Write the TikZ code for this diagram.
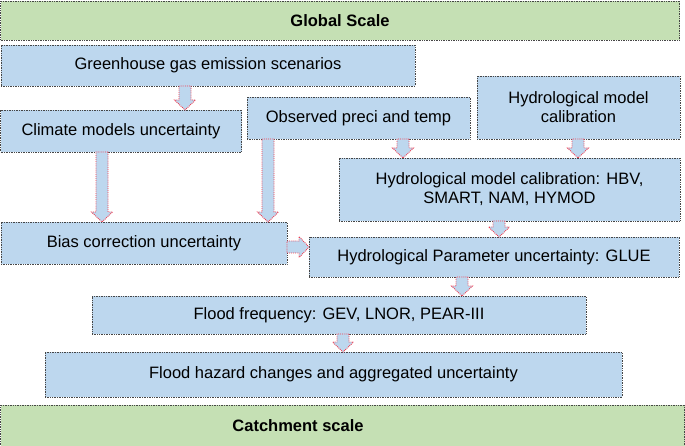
\documentclass[tikz,border=0pt]{standalone}
\usepackage{fontspec}
\setmainfont{Liberation Sans}
\usetikzlibrary{calc}

\definecolor{boxblue}{RGB}{189,215,238}
\definecolor{scalegreen}{RGB}{197,224,180}
\definecolor{bordergray}{RGB}{70,70,70}
\definecolor{arrowred}{RGB}{240,60,80}

\tikzset{
  box/.style={draw=bordergray, densely dotted, line width=0.7pt, fill=boxblue,
    inner sep=0pt, outer sep=0pt, align=center, font=\fontsize{16.5}{19}\selectfont},
  scalebox/.style={box, fill=scalegreen, font=\fontsize{16.5}{19}\selectfont\bfseries},
  blockarrow/.style={draw=arrowred, densely dotted, line width=0.9pt, fill=boxblue,
    to path={
      ($(\tikztostart)!6pt!90:(\tikztotarget)$)
      -- ($($(\tikztotarget)!10pt!(\tikztostart)$)!6pt!-90:(\tikztostart)$)
      -- ($($(\tikztotarget)!10pt!(\tikztostart)$)!10.5pt!-90:(\tikztostart)$)
      -- (\tikztotarget)
      -- ($($(\tikztotarget)!10pt!(\tikztostart)$)!10.5pt!90:(\tikztostart)$)
      -- ($($(\tikztotarget)!10pt!(\tikztostart)$)!6pt!90:(\tikztostart)$)
      -- ($(\tikztostart)!6pt!-90:(\tikztotarget)$)
      -- cycle}}
}

\begin{document}
\begin{tikzpicture}[x=1pt,y=-1pt]
\useasboundingbox (0,0) rectangle (685,446);

% scale bars
\node[scalebox, minimum width=679pt, minimum height=39pt] (global) at (340,20.5) {Global Scale};
\node[scalebox, minimum width=684pt, minimum height=41pt] (catch) at (342.5,425.5) {\hspace*{-89pt}Catchment scale};

% boxes
\node[box, minimum width=414pt, minimum height=41pt] (ghg) at (208,65.5) {Greenhouse gas emission scenarios};
\node[box, minimum width=241pt, minimum height=42pt] (clim) at (121,131) {Climate models uncertainty};
\node[box, minimum width=223pt, minimum height=42pt] (obs) at (358.5,118) {Observed preci and temp};
\node[box, minimum width=203pt, minimum height=63pt] (hcal) at (578.5,107.5) {Hydrological model\\calibration};
\node[box, minimum width=341pt, minimum height=63pt] (hbv) at (509.5,189.5) {Hydrological model calibration: HBV,\\SMART, NAM, HYMOD};
\node[box, minimum width=286pt, minimum height=42pt] (bias) at (144,243) {Bias correction uncertainty};
\node[box, minimum width=370pt, minimum height=40pt] (glue) at (494,257) {Hydrological Parameter uncertainty: GLUE};
\node[box, minimum width=494pt, minimum height=38pt] (ffreq) at (339,315) {Flood frequency: GEV, LNOR, PEAR-III};
\node[box, minimum width=577pt, minimum height=45pt] (fhaz) at (333.5,374.5) {Flood hazard changes and aggregated uncertainty};

% arrows
\path[blockarrow] (ghg.south -| 185,0) to (clim.north -| 185,0);
\path[blockarrow] (clim.south -| 102,0) to (bias.north -| 102,0);
\path[blockarrow] (obs.south -| 268,0) to (bias.north -| 268,0);
\path[blockarrow] (obs.south -| 403,0) to (hbv.north -| 403,0);
\path[blockarrow] (hcal.south -| 578,0) to (hbv.north -| 578,0);
\path[blockarrow] (bias.east |- 0,247) to (glue.west |- 0,247);
\path[blockarrow] (hbv.south -| 499,0) to (glue.north -| 499,0);
\path[blockarrow] (glue.south -| 462,0) to (ffreq.north -| 462,0);
\path[blockarrow] (ffreq.south -| 343,0) to (fhaz.north -| 343,0);
\end{tikzpicture}
\end{document}
